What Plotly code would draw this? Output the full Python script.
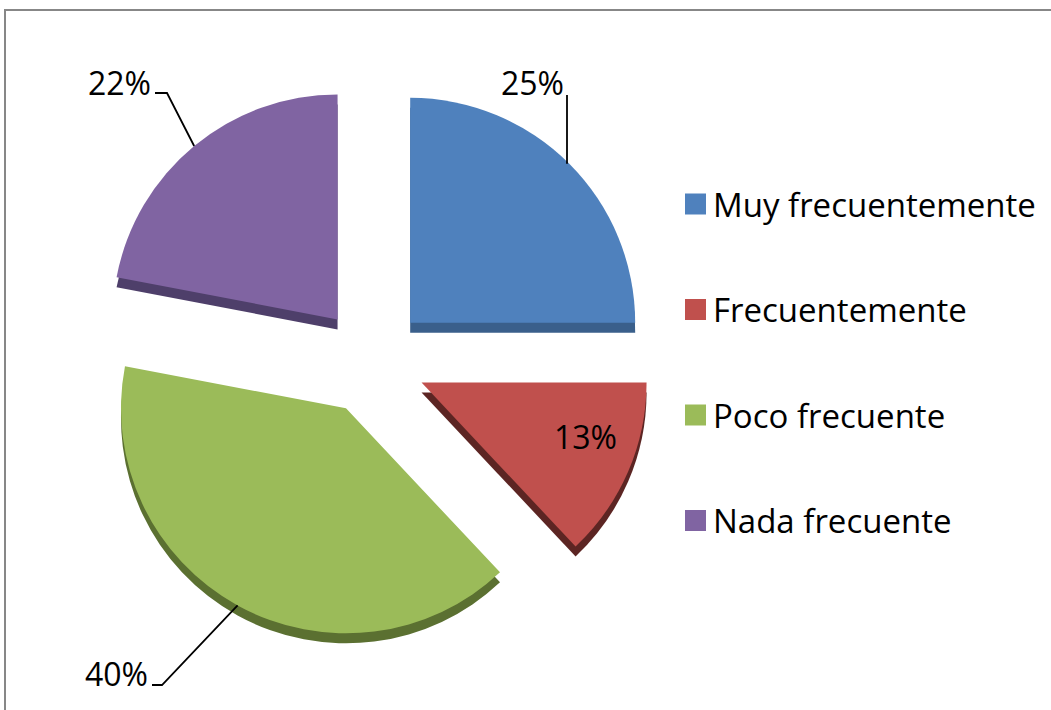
import math
import plotly.graph_objects as go

# ---- data ----
categories = ["Muy frecuentemente", "Frecuentemente", "Poco frecuente", "Nada frecuente"]
values = [25, 13, 40, 22]
pct_labels = ["25%", "13%", "40%", "22%"]
colors = ["#4F81BD", "#C0504D", "#9BBB59", "#8064A2"]
side_colors = ["#3A5F8B", "#5C2523", "#5B7031", "#4E3F6A"]

# ---- layout constants (pixels) ----
W, H = 1051, 710
PULL = 0.24
DEPTH = 10
DOM_X = (93, 651)
DOM_Y = (82, 640)
FONT = "Open Sans"
FS = 33

def px(x):
    return x / W

def py(y):
    return 1 - y / H

fig = go.Figure()

# side (depth) layer
fig.add_trace(go.Pie(
    labels=categories, values=values, sort=False, direction="clockwise", rotation=0,
    pull=[PULL] * 4, marker=dict(colors=side_colors), textinfo="none", hoverinfo="skip",
    showlegend=False,
    domain=dict(x=[px(DOM_X[0]), px(DOM_X[1])], y=[py(DOM_Y[1] + DEPTH), py(DOM_Y[0] + DEPTH)]),
))

# top layer
fig.add_trace(go.Pie(
    labels=categories, values=values, sort=False, direction="clockwise", rotation=0,
    pull=[PULL] * 4, marker=dict(colors=colors),
    textinfo="none",
    showlegend=False,
    domain=dict(x=[px(DOM_X[0]), px(DOM_X[1])], y=[py(DOM_Y[1]), py(DOM_Y[0])]),
))

# geometry for leader lines (same as plotly's pie scaling)
side = min(DOM_X[1] - DOM_X[0], DOM_Y[1] - DOM_Y[0])
r = side / (2 + 2 * PULL)
cx = (DOM_X[0] + DOM_X[1]) / 2
cy = (DOM_Y[0] + DOM_Y[1]) / 2
total = sum(values)
cum = 0
edge_pts = []
for v in values:
    mid = (cum + v / 2) / total * 2 * math.pi
    cum += v
    dx, dy = math.sin(mid), -math.cos(mid)
    ex = cx + dx * r * (1 + PULL)
    ey = cy + dy * r * (1 + PULL)
    edge_pts.append((ex, ey))

shapes = []
annotations = []

# outside labels: (label index, elbow point, end of horizontal, text anchor x, text center y)
outside = [
    (0, (567, 95), (567, 95), 566, 83),
    (3, (167, 93), (155, 93), 153, 83),
    (2, (162, 685), (152, 685), 150, 673),
]
for idx, elbow, end, tx, ty in outside:
    ex, ey = edge_pts[idx]
    if idx == 0:
        ex = elbow[0]
    path = f"M {px(ex)} {py(ey)} L {px(elbow[0])} {py(elbow[1])} L {px(end[0])} {py(end[1])}"
    shapes.append(dict(type="path", xref="paper", yref="paper", path=path,
                       line=dict(color="black", width=1.8)))
    annotations.append(dict(x=px(tx), y=py(ty), xref="paper", yref="paper", text=pct_labels[idx],
                            showarrow=False, xanchor="right", yanchor="middle",
                            font=dict(family=FONT, size=FS - 1, color="black")))

# inside label for the small slice
annotations.append(dict(x=px(585), y=py(437), xref="paper", yref="paper", text=pct_labels[1],
                        showarrow=False, xanchor="center", yanchor="middle",
                        font=dict(family=FONT, size=FS - 1, color="black")))

# legend
for i, (cat, col) in enumerate(zip(categories, colors)):
    yc = 204 + i * 105.5
    shapes.append(dict(type="rect", xref="paper", yref="paper",
                       x0=px(685), x1=px(706), y0=py(yc + 10.5), y1=py(yc - 10.5),
                       fillcolor=col, line=dict(width=0)))
    annotations.append(dict(x=px(711), y=py(yc), xref="paper", yref="paper", text=cat,
                            showarrow=False, xanchor="left", yanchor="middle",
                            font=dict(family=FONT, size=FS, color="black")))

# chart border
shapes.append(dict(type="rect", xref="paper", yref="paper",
                   x0=px(5), x1=1.02, y0=-0.02, y1=py(10),
                   line=dict(color="#878787", width=2), fillcolor="rgba(0,0,0,0)"))

fig.update_layout(
    width=W, height=H, margin=dict(l=0, r=0, t=0, b=0),
    paper_bgcolor="white", plot_bgcolor="white",
    shapes=shapes, annotations=annotations, showlegend=False,
)

fig.write_html("out.html", config={"displayModeBar": False},
               post_script="document.body.style.margin='0';")
